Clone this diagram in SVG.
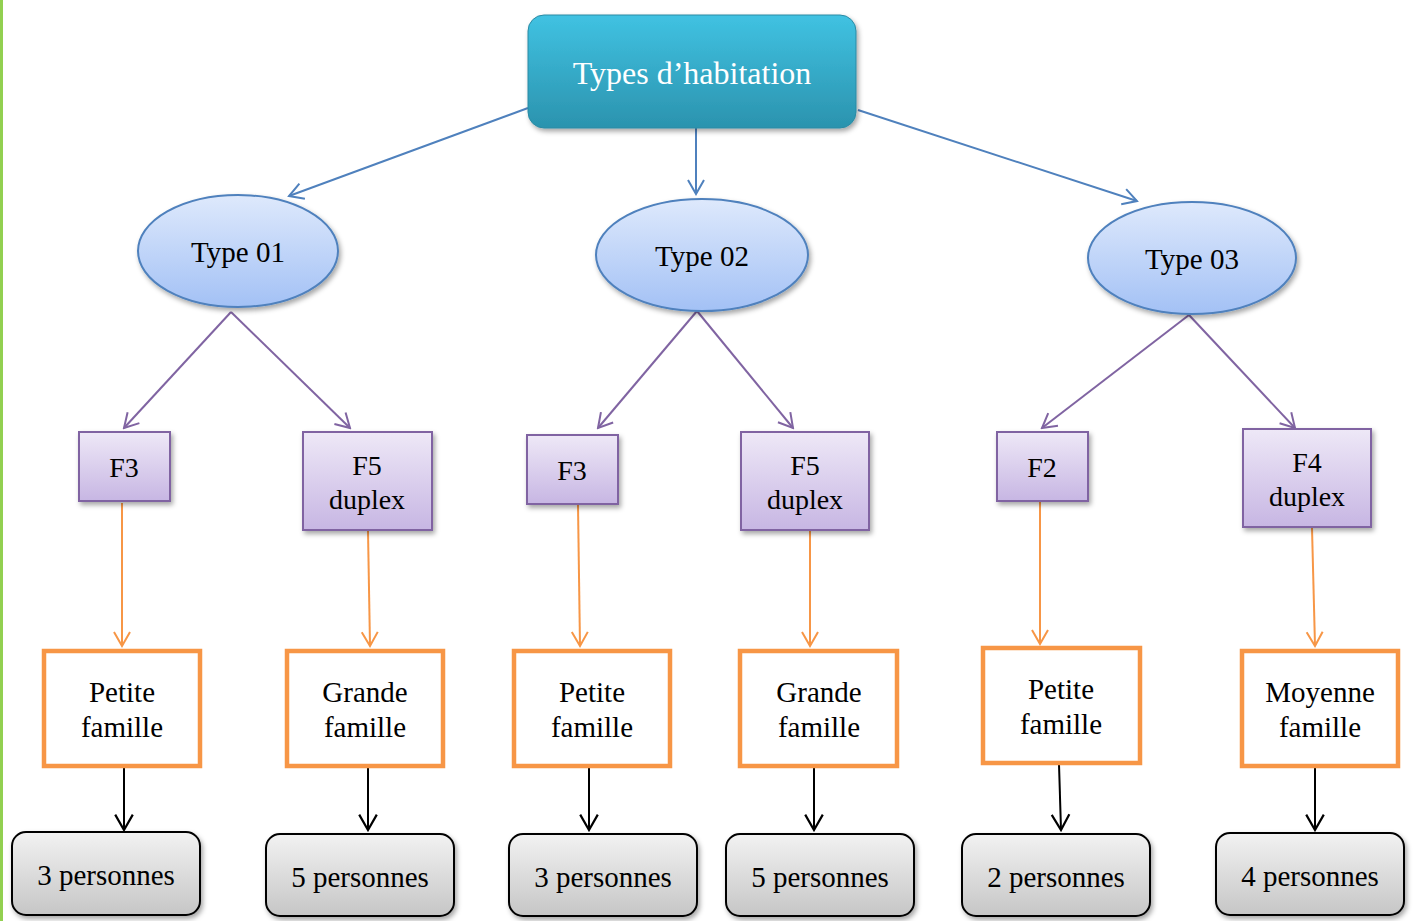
<svg xmlns="http://www.w3.org/2000/svg" width="1416" height="921" viewBox="0 0 1416 921">
<defs>
<linearGradient id="gTop" x1="0" y1="0" x2="0" y2="1"><stop offset="0" stop-color="#40C2E2"/><stop offset="1" stop-color="#2B93AE"/></linearGradient>
<linearGradient id="gEll" x1="0" y1="0" x2="0" y2="1"><stop offset="0" stop-color="#DEE9FC"/><stop offset="1" stop-color="#A3C1F5"/></linearGradient>
<linearGradient id="gPur" x1="0" y1="0" x2="0" y2="1"><stop offset="0" stop-color="#EEE8F7"/><stop offset="1" stop-color="#C7B6E3"/></linearGradient>
<linearGradient id="gGray" x1="0" y1="0" x2="0" y2="1"><stop offset="0" stop-color="#F2F2F2"/><stop offset="1" stop-color="#C6C6C6"/></linearGradient>
<filter id="sh" x="-10%" y="-10%" width="130%" height="140%"><feDropShadow dx="2" dy="3" stdDeviation="2.5" flood-color="#000" flood-opacity="0.35"/></filter>
<marker id="aBlue" viewBox="0 0 20 20" refX="18" refY="10" markerWidth="20" markerHeight="20" markerUnits="userSpaceOnUse" orient="auto"><path d="M4,2 L18,10 L4,18" fill="none" stroke="#4F81BD" stroke-width="2"/></marker>
<marker id="aPur" viewBox="0 0 20 20" refX="18" refY="10" markerWidth="20" markerHeight="20" markerUnits="userSpaceOnUse" orient="auto"><path d="M4,2 L18,10 L4,18" fill="none" stroke="#8064A2" stroke-width="2"/></marker>
<marker id="aOr" viewBox="0 0 20 20" refX="18" refY="10" markerWidth="20" markerHeight="20" markerUnits="userSpaceOnUse" orient="auto"><path d="M4,2 L18,10 L4,18" fill="none" stroke="#F79646" stroke-width="2"/></marker>
<marker id="aBlk" viewBox="0 0 20 20" refX="18" refY="10" markerWidth="22" markerHeight="22" markerUnits="userSpaceOnUse" orient="auto"><path d="M4,2 L18,10 L4,18" fill="none" stroke="#000" stroke-width="2"/></marker>
</defs>
<style>
text{font-family:"Liberation Serif","Times New Roman",serif;text-anchor:middle;fill:#000;}
.t{font-size:32px;fill:#fff;}
.e{fill:url(#gEll);stroke:#4F81BD;stroke-width:2;}
.et{font-size:29px;}
.p{fill:url(#gPur);stroke:#8064A2;stroke-width:2;}
.pt{font-size:28px;}
.o{fill:#fff;stroke:#F79646;stroke-width:4.5;}
.ot{font-size:29px;}
.g{fill:url(#gGray);stroke:#000;stroke-width:2;}
.gt{font-size:29px;}
.cb{stroke:#4F81BD;stroke-width:2;fill:none;marker-end:url(#aBlue);}
.cp{stroke:#8064A2;stroke-width:2;fill:none;marker-end:url(#aPur);}
.co{stroke:#F79646;stroke-width:2;fill:none;marker-end:url(#aOr);}
.ck{stroke:#000;stroke-width:2;fill:none;marker-end:url(#aBlk);}
</style>
<rect x="0" y="0" width="1416" height="921" fill="#fff"/>
<rect x="0" y="0" width="3" height="921" fill="#92D050"/>

<g id="connectors">
<line class="cb" x1="528" y1="108" x2="289" y2="196"/>
<line class="cb" x1="696" y1="128" x2="696" y2="194"/>
<line class="cb" x1="858" y1="110" x2="1137" y2="201"/>
<line class="cp" x1="231" y1="312" x2="124" y2="428"/>
<line class="cp" x1="231" y1="312" x2="350" y2="428"/>
<line class="cp" x1="697" y1="311" x2="598" y2="428"/>
<line class="cp" x1="697" y1="311" x2="793" y2="428"/>
<line class="cp" x1="1189" y1="315" x2="1042" y2="428"/>
<line class="cp" x1="1189" y1="315" x2="1295" y2="428"/>
<line class="co" x1="122" y1="503" x2="122" y2="646"/>
<line class="co" x1="368" y1="531" x2="370" y2="646"/>
<line class="co" x1="578" y1="505" x2="580" y2="646"/>
<line class="co" x1="810" y1="531" x2="810" y2="646"/>
<line class="co" x1="1040" y1="502" x2="1040" y2="644"/>
<line class="co" x1="1312" y1="528" x2="1315" y2="646"/>
<line class="ck" x1="124" y1="767" x2="124" y2="830"/>
<line class="ck" x1="368" y1="767" x2="368" y2="830"/>
<line class="ck" x1="589" y1="767" x2="589" y2="830"/>
<line class="ck" x1="814" y1="767" x2="814" y2="830"/>
<line class="ck" x1="1059" y1="764" x2="1061" y2="830"/>
<line class="ck" x1="1315" y1="767" x2="1315" y2="830"/>
</g>

<g id="root">
<rect x="528" y="15" width="328" height="113" rx="16" fill="url(#gTop)" stroke="#2A8AA4" stroke-width="1" filter="url(#sh)"/>
<text class="t" x="692" y="84">Types d’habitation</text>
</g>

<g id="type01"><ellipse class="e" cx="238" cy="251" rx="100" ry="56" filter="url(#sh)"/><text class="et" x="238" y="262">Type 01</text></g>
<g id="type02"><ellipse class="e" cx="702" cy="255" rx="106" ry="56" filter="url(#sh)"/><text class="et" x="702" y="266">Type 02</text></g>
<g id="type03"><ellipse class="e" cx="1192" cy="258" rx="104" ry="56" filter="url(#sh)"/><text class="et" x="1192" y="269">Type 03</text></g>

<g id="f3a"><rect class="p" x="79" y="432" width="91" height="69" filter="url(#sh)"/><text class="pt" x="124" y="477">F3</text></g>
<g id="f5a"><rect class="p" x="303" y="432" width="129" height="98" filter="url(#sh)"/><text class="pt" x="367" y="475">F5</text><text class="pt" x="367" y="509">duplex</text></g>
<g id="f3b"><rect class="p" x="527" y="435" width="91" height="69" filter="url(#sh)"/><text class="pt" x="572" y="480">F3</text></g>
<g id="f5b"><rect class="p" x="741" y="432" width="128" height="98" filter="url(#sh)"/><text class="pt" x="805" y="475">F5</text><text class="pt" x="805" y="509">duplex</text></g>
<g id="f2"><rect class="p" x="997" y="432" width="91" height="69" filter="url(#sh)"/><text class="pt" x="1042" y="477">F2</text></g>
<g id="f4"><rect class="p" x="1243" y="429" width="128" height="98" filter="url(#sh)"/><text class="pt" x="1307" y="472">F4</text><text class="pt" x="1307" y="506">duplex</text></g>

<g id="fam1"><rect class="o" x="44" y="651" width="156" height="115"/><text class="ot" x="122" y="702">Petite</text><text class="ot" x="122" y="737">famille</text></g>
<g id="fam2"><rect class="o" x="287" y="651" width="156" height="115"/><text class="ot" x="365" y="702">Grande</text><text class="ot" x="365" y="737">famille</text></g>
<g id="fam3"><rect class="o" x="514" y="651" width="156" height="115"/><text class="ot" x="592" y="702">Petite</text><text class="ot" x="592" y="737">famille</text></g>
<g id="fam4"><rect class="o" x="740" y="651" width="157" height="115"/><text class="ot" x="819" y="702">Grande</text><text class="ot" x="819" y="737">famille</text></g>
<g id="fam5"><rect class="o" x="983" y="648" width="157" height="115"/><text class="ot" x="1061" y="699">Petite</text><text class="ot" x="1061" y="734">famille</text></g>
<g id="fam6"><rect class="o" x="1242" y="651" width="156" height="115"/><text class="ot" x="1320" y="702">Moyenne</text><text class="ot" x="1320" y="737">famille</text></g>

<g id="p1"><rect class="g" x="12" y="832" width="188" height="83" rx="14" filter="url(#sh)"/><text class="gt" x="106" y="885">3 personnes</text></g>
<g id="p2"><rect class="g" x="266" y="834" width="188" height="82" rx="14" filter="url(#sh)"/><text class="gt" x="360" y="887">5 personnes</text></g>
<g id="p3"><rect class="g" x="509" y="834" width="188" height="82" rx="14" filter="url(#sh)"/><text class="gt" x="603" y="887">3 personnes</text></g>
<g id="p4"><rect class="g" x="726" y="834" width="188" height="82" rx="14" filter="url(#sh)"/><text class="gt" x="820" y="887">5 personnes</text></g>
<g id="p5"><rect class="g" x="962" y="834" width="188" height="82" rx="14" filter="url(#sh)"/><text class="gt" x="1056" y="887">2 personnes</text></g>
<g id="p6"><rect class="g" x="1216" y="833" width="188" height="82" rx="14" filter="url(#sh)"/><text class="gt" x="1310" y="886">4 personnes</text></g>
</svg>
